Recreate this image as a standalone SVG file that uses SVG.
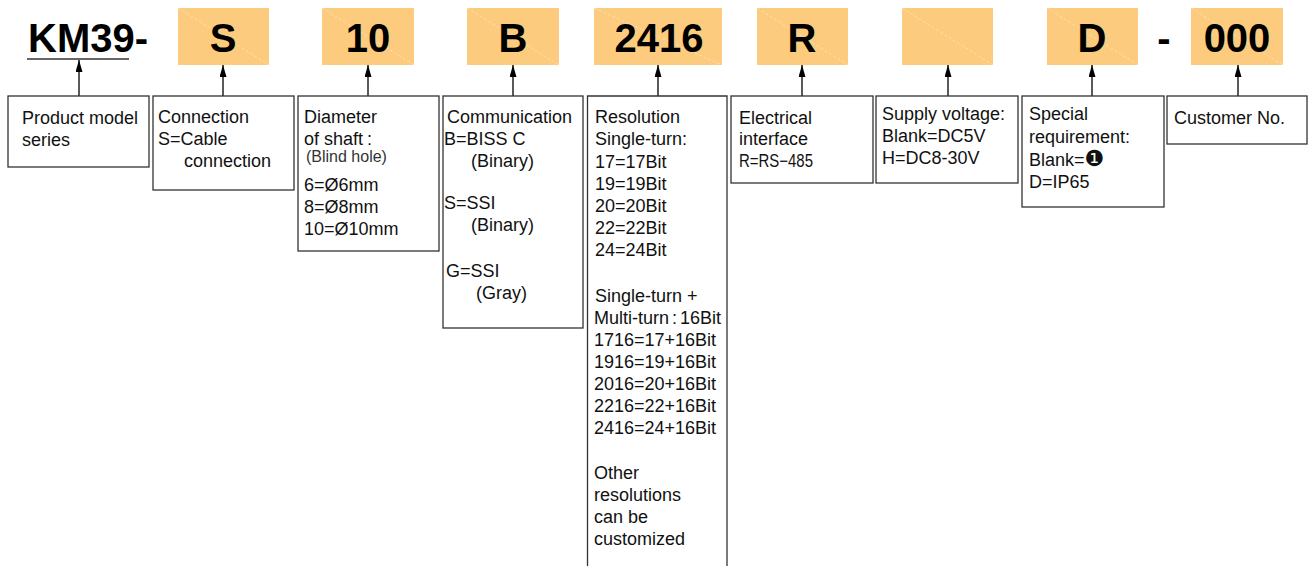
<svg xmlns="http://www.w3.org/2000/svg" width="1309" height="566" viewBox="0 0 1309 566">
<style>
.code{fill:#FCCB7D}
.diag{stroke:#fff;stroke-opacity:.55;stroke-width:.7;stroke-dasharray:3 2}
.big{font-family:"Liberation Sans",Arial,sans-serif;font-weight:bold;font-size:40px;fill:#000;text-anchor:middle}
.box{fill:#fff;stroke:#333;stroke-width:1.3}
.t{font-family:"Liberation Sans",Arial,sans-serif;font-size:18px;fill:#111}
.s{font-family:"Liberation Sans",Arial,sans-serif;font-size:16px;fill:#333}
.conn line{stroke:#000;stroke-width:1.3}
</style>
<defs>
<marker id="ah" viewBox="0 0 12 7" refX="12" refY="3.5" markerWidth="12" markerHeight="7" markerUnits="userSpaceOnUse" orient="auto"><path d="M0,0 L12,3.5 L0,7 z" fill="#000"/></marker>
</defs>
<rect width="1309" height="566" fill="#fff"/>

<g id="code-km39">
<text x="28" y="52" class="big" style="text-anchor:start">KM39-</text>
<line x1="27" y1="59" x2="129" y2="59" stroke="#666" stroke-width="2"/>
</g>
<g id="code-S"><rect x="178" y="8" width="91" height="57" class="code"/><line x1="178" y1="8" x2="269" y2="65" class="diag"/><text x="223" y="52" class="big">S</text></g>
<g id="code-10"><rect x="322" y="8" width="92" height="57" class="code"/><line x1="322" y1="8" x2="414" y2="65" class="diag"/><text x="368" y="52" class="big">10</text></g>
<g id="code-B"><rect x="467" y="8" width="92" height="57" class="code"/><line x1="467" y1="8" x2="559" y2="65" class="diag"/><text x="513" y="52" class="big">B</text></g>
<g id="code-2416"><rect x="594" y="8" width="128" height="57" class="code"/><line x1="594" y1="8" x2="722" y2="65" class="diag"/><text x="659" y="52" class="big">2416</text></g>
<g id="code-R"><rect x="757" y="8" width="91" height="57" class="code"/><line x1="757" y1="8" x2="848" y2="65" class="diag"/><text x="802" y="52" class="big">R</text></g>
<g id="code-blank"><rect x="902" y="8" width="91" height="57" class="code"/><line x1="902" y1="8" x2="993" y2="65" class="diag"/></g>
<g id="code-D"><rect x="1047" y="8" width="91" height="57" class="code"/><line x1="1047" y1="8" x2="1138" y2="65" class="diag"/><text x="1092" y="52" class="big">D</text></g>
<g id="sep"><text x="1164" y="52" class="big">-</text></g>
<g id="code-000"><rect x="1191" y="8" width="92" height="57" class="code"/><line x1="1191" y1="8" x2="1283" y2="65" class="diag"/><text x="1237" y="52" class="big">000</text></g>

<g id="connectors" class="conn">
<line x1="79" y1="96" x2="79" y2="60" marker-end="url(#ah)"/>
<line x1="223" y1="96" x2="223" y2="65" marker-end="url(#ah)"/>
<line x1="368" y1="96" x2="368" y2="65" marker-end="url(#ah)"/>
<line x1="513" y1="96" x2="513" y2="65" marker-end="url(#ah)"/>
<line x1="658" y1="96" x2="658" y2="65" marker-end="url(#ah)"/>
<line x1="802" y1="96" x2="802" y2="65" marker-end="url(#ah)"/>
<line x1="948" y1="96" x2="948" y2="65" marker-end="url(#ah)"/>
<line x1="1092" y1="96" x2="1092" y2="65" marker-end="url(#ah)"/>
<line x1="1238" y1="96" x2="1238" y2="65" marker-end="url(#ah)"/>
</g>

<g id="node-series">
<rect x="8" y="96" width="141" height="71" class="box"/>
<text class="t" x="22" y="124">Product model</text>
<text class="t" x="22" y="146">series</text>
</g>
<g id="node-connection">
<rect x="153" y="96" width="141" height="94" class="box"/>
<text class="t" x="158" y="123">Connection</text>
<text class="t" x="158" y="145">S=Cable</text>
<text class="t" x="184" y="167">connection</text>
</g>
<g id="node-diameter">
<rect x="298" y="96" width="141" height="155" class="box"/>
<text class="t" x="304" y="123">Diameter</text>
<text class="t" x="304" y="145">of shaft<tspan x="367">:</tspan></text>
<text class="s" x="306" y="162">(Blind hole)</text>
<text class="t" x="304" y="191">6=Ø6mm</text>
<text class="t" x="304" y="213">8=Ø8mm</text>
<text class="t" x="304" y="235">10=Ø10mm</text>
</g>
<g id="node-communication">
<rect x="443" y="96" width="140" height="232" class="box"/>
<text class="t" x="447" y="123">Communication</text>
<text class="t" x="444" y="145">B=BISS C</text>
<text class="t" x="471" y="167">(Binary)</text>
<text class="t" x="444" y="209">S=SSI</text>
<text class="t" x="471" y="231">(Binary)</text>
<text class="t" x="446" y="277">G=SSI</text>
<text class="t" x="476" y="299">(Gray)</text>
</g>
<g id="node-resolution">
<path d="M587.5,580 V96 H727 V580" class="box" fill="none"/>
<text class="t" x="595" y="123">Resolution</text>
<text class="t" x="595" y="145">Single-turn:</text>
<text class="t" x="595" y="168">17=17Bit</text>
<text class="t" x="595" y="190">19=19Bit</text>
<text class="t" x="595" y="212">20=20Bit</text>
<text class="t" x="595" y="234">22=22Bit</text>
<text class="t" x="595" y="256">24=24Bit</text>
<text class="t" x="595" y="302">Single-turn +</text>
<text class="t" x="594" y="324">Multi-turn<tspan x="672">:</tspan><tspan x="680">16Bit</tspan></text>
<text class="t" x="594" y="346">1716=17+16Bit</text>
<text class="t" x="594" y="368">1916=19+16Bit</text>
<text class="t" x="594" y="390">2016=20+16Bit</text>
<text class="t" x="594" y="412">2216=22+16Bit</text>
<text class="t" x="594" y="434">2416=24+16Bit</text>
<text class="t" x="594" y="479">Other</text>
<text class="t" x="594" y="501">resolutions</text>
<text class="t" x="594" y="523">can be</text>
<text class="t" x="594" y="545">customized</text>
</g>
<g id="node-electrical">
<rect x="731" y="96" width="142" height="87" class="box"/>
<text class="t" x="739" y="124">Electrical</text>
<text class="t" x="739" y="145">interface</text>
<text class="t" x="739" y="167" textLength="74" lengthAdjust="spacingAndGlyphs">R=RS−485</text>
</g>
<g id="node-supply">
<rect x="876" y="96" width="142" height="87" class="box"/>
<text class="t" x="882" y="120">Supply voltage:</text>
<text class="t" x="882" y="142">Blank=DC5V</text>
<text class="t" x="882" y="164">H=DC8-30V</text>
</g>
<g id="node-special">
<rect x="1022" y="96" width="142" height="111" class="box"/>
<text class="t" x="1029" y="120">Special</text>
<text class="t" x="1029" y="143">requirement:</text>
<text class="t" x="1029" y="166">Blank=<tspan style="font-family:'DejaVu Sans',sans-serif;font-size:22px">❶</tspan></text>
<text class="t" x="1029" y="188">D=IP65</text>
</g>
<g id="node-customer">
<rect x="1167" y="96" width="140" height="48" class="box"/>
<text class="t" x="1174" y="124">Customer No.</text>
</g>
</svg>
